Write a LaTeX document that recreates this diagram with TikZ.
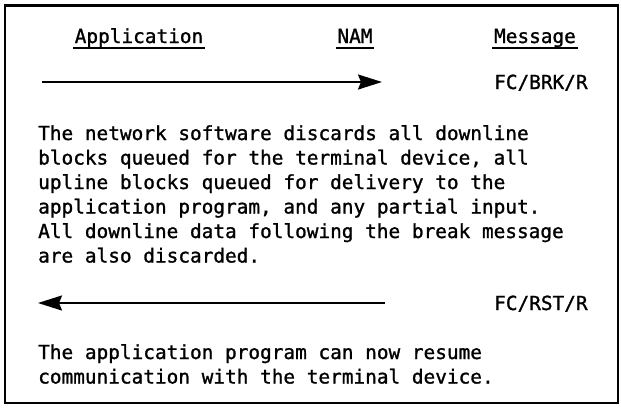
\documentclass[tikz,border=0pt]{standalone}
\usepackage{fontspec}
\setmonofont[FakeBold=1.2]{DejaVu Sans Mono}
\usetikzlibrary{arrows.meta}

\begin{document}
\begin{tikzpicture}[
    x=1pt, y=-1pt,
    font=\ttfamily\fontsize{19.4}{24.5}\selectfont,
    hdr/.style={inner xsep=1.5pt, inner ysep=0pt, text depth=5pt, anchor=base},
    uline/.style={line width=1.8pt},
    msg/.style={inner sep=0pt, anchor=base west},
    txt/.style={inner sep=0pt, anchor=base west, align=left},
    flow/.style={line width=2.2pt, -{Stealth[length=24pt, width=15pt, inset=3pt]}}]

    \useasboundingbox (0,0) rectangle (621,407);
    \draw[line width=2.5pt] (5,5.5) rectangle (618,403);

    % column heads
    \node[hdr] (app) at (139,43) {Application};
    \node[hdr] (nam) at (355,43) {NAM};
    \node[hdr] (msghead) at (535,43) {Message};
    \foreach \h in {app,nam,msghead}
        \draw[uline] (\h.south west) -- (\h.south east);

    % break request
    \node[msg] (brk) at (494,89) {FC/BRK/R};
    \coordinate (brkfrom) at (42,82);
    \coordinate (brkto) at (382,82);
    \draw[flow] (brkfrom) -- (brkto);

    % base of a text block = base of its last line
    \node[txt] (discard) at (38,262.5) {The network software discards all downline\\
        blocks queued for the terminal device, all\\
        upline blocks queued for delivery to the\\
        application program, and any partial input.\\
        All downline data following the break message\\
        are also discarded.};

    % reset reply
    \node[msg] (rst) at (494,310) {FC/RST/R};
    \coordinate (rstfrom) at (385,303);
    \coordinate (rstto) at (38,303);
    \draw[flow] (rstfrom) -- (rstto);

    \node[txt] (resume) at (38,383.5) {The application program can now resume\\
        communication with the terminal device.};
\end{tikzpicture}
\end{document}
